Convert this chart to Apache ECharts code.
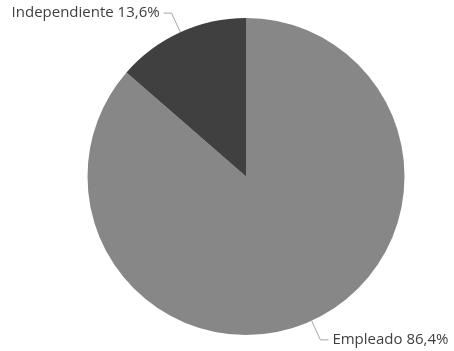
<!DOCTYPE html>
<html>
<head>
<meta charset="utf-8">
<script src="https://cdn.jsdelivr.net/npm/echarts@6/dist/echarts.min.js"></script>
<style>
  html, body { margin: 0; padding: 0; background: #fff; }
  #chart { width: 454px; height: 351px; }
</style>
</head>
<body>
<div id="chart"></div>
<script>
// Employment type shares (percent)
const categories = ['Empleado', 'Independiente'];
const shares = [86.4, 13.6];
const sliceColors = ['#878787', '#404040'];

const chart = echarts.init(document.getElementById('chart'), null, { renderer: 'canvas' });

chart.setOption({
  animation: false,
  backgroundColor: '#ffffff',
  series: [{
    type: 'pie',
    center: [246, 176.5],
    radius: 158.5,
    startAngle: 90,
    clockwise: true,
    avoidLabelOverlap: false,
    data: categories.map((name, i) => ({
      name: name,
      value: shares[i],
      itemStyle: { color: sliceColors[i] }
    })),
    itemStyle: { borderWidth: 0 },
    label: {
      show: true,
      formatter: p => p.name + ' ' + p.value.toFixed(1).replace('.', ',') + '%',
      color: '#404040',
      fontFamily: '"Open Sans", "Noto Sans", sans-serif',
      fontSize: 15,
      distanceToLabelLine: 4
    },
    labelLine: {
      show: true,
      length: 21,
      length2: 8,
      smooth: false,
      lineStyle: { color: '#a6a6a6', width: 1 }
    },
    emphasis: { disabled: true }
  }]
});
</script>
</body>
</html>
